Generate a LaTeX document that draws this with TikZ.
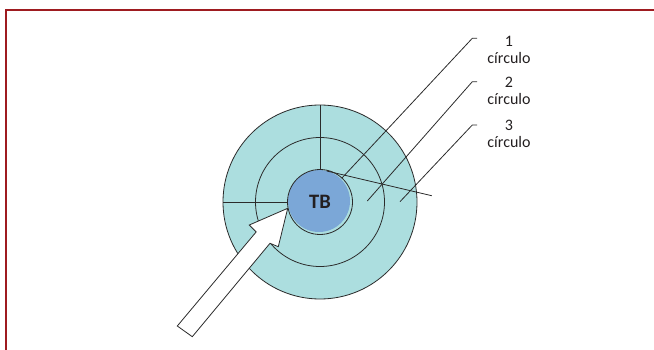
\documentclass[tikz,border=0pt]{standalone}
\usepackage{fontspec}
\setmainfont{Carlito}
\definecolor{frame}{HTML}{9E1B20}
\definecolor{ring}{HTML}{ACDEDF}
\definecolor{core}{HTML}{7BA7D7}
\definecolor{ink}{HTML}{231F20}
\definecolor{edge}{HTML}{2B2B2B}
\begin{document}
\begin{tikzpicture}[x=1pt,y=-1pt,
  ln/.style={draw=edge,line width=0.8pt},
  lbl/.style={text=ink,font=\fontsize{16}{17.5}\selectfont,align=center,inner sep=0pt}]
\useasboundingbox (0,0) rectangle (654,350);
% frame
\draw[frame,line width=2.2pt] (5.7,350) -- (5.7,10) -- (654,10);
% rings
\coordinate (c) at (320,202);
\fill[ring] (c) circle[radius=97];
\draw[ln] (c) circle[radius=97];
\draw[ln] (c) circle[radius=64.5];
\fill[core] (319,201) circle[radius=31];
\draw[ln] (c) circle[radius=32.5];
% sector lines
\coordinate (vt) at (320,105);
\coordinate (vb) at (320,169.5);
\coordinate (hl) at (223,202);
\coordinate (hr) at (287.5,202);
\draw[ln] (vt) -- (vb);
\draw[ln] (hl) -- (hr);
\coordinate (ds) at (326.7,171);
\coordinate (de) at (431.7,195.7);
\draw[ln] (ds) -- (de);
% leader lines
\coordinate (a1) at (341.7,178.3);
\coordinate (b1) at (472.3,38.3);
\coordinate (e1) at (477,38.3);
\coordinate (a2) at (367.3,201);
\coordinate (b2) at (472.3,81.7);
\coordinate (e2) at (477,81.7);
\coordinate (a3) at (400,201.7);
\coordinate (b3) at (472.3,125);
\coordinate (e3) at (477,125);
\draw[ln] (a1) -- (b1) -- (e1);
\draw[ln] (a2) -- (b2) -- (e2);
\draw[ln] (a3) -- (b3) -- (e3);
% labels
\node[lbl] (t1) at (509,50) {1\\círculo};
\node[lbl] (t2) at (509,91) {2\\círculo};
\node[lbl] (t3) at (509,134) {3\\círculo};
\node[text=ink,font=\fontsize{20.5}{24}\selectfont\bfseries,inner sep=0pt] (tb) at (320,202) {TB};
% arrow
\draw[ln,fill=white,line join=miter]
  (177.3,326) -- (256.2,231.9) -- (249.3,225) -- (287.7,208.3)
  -- (278.3,246.7) -- (270,243.3) -- (192.3,336.7) -- cycle;
\end{tikzpicture}
\end{document}
